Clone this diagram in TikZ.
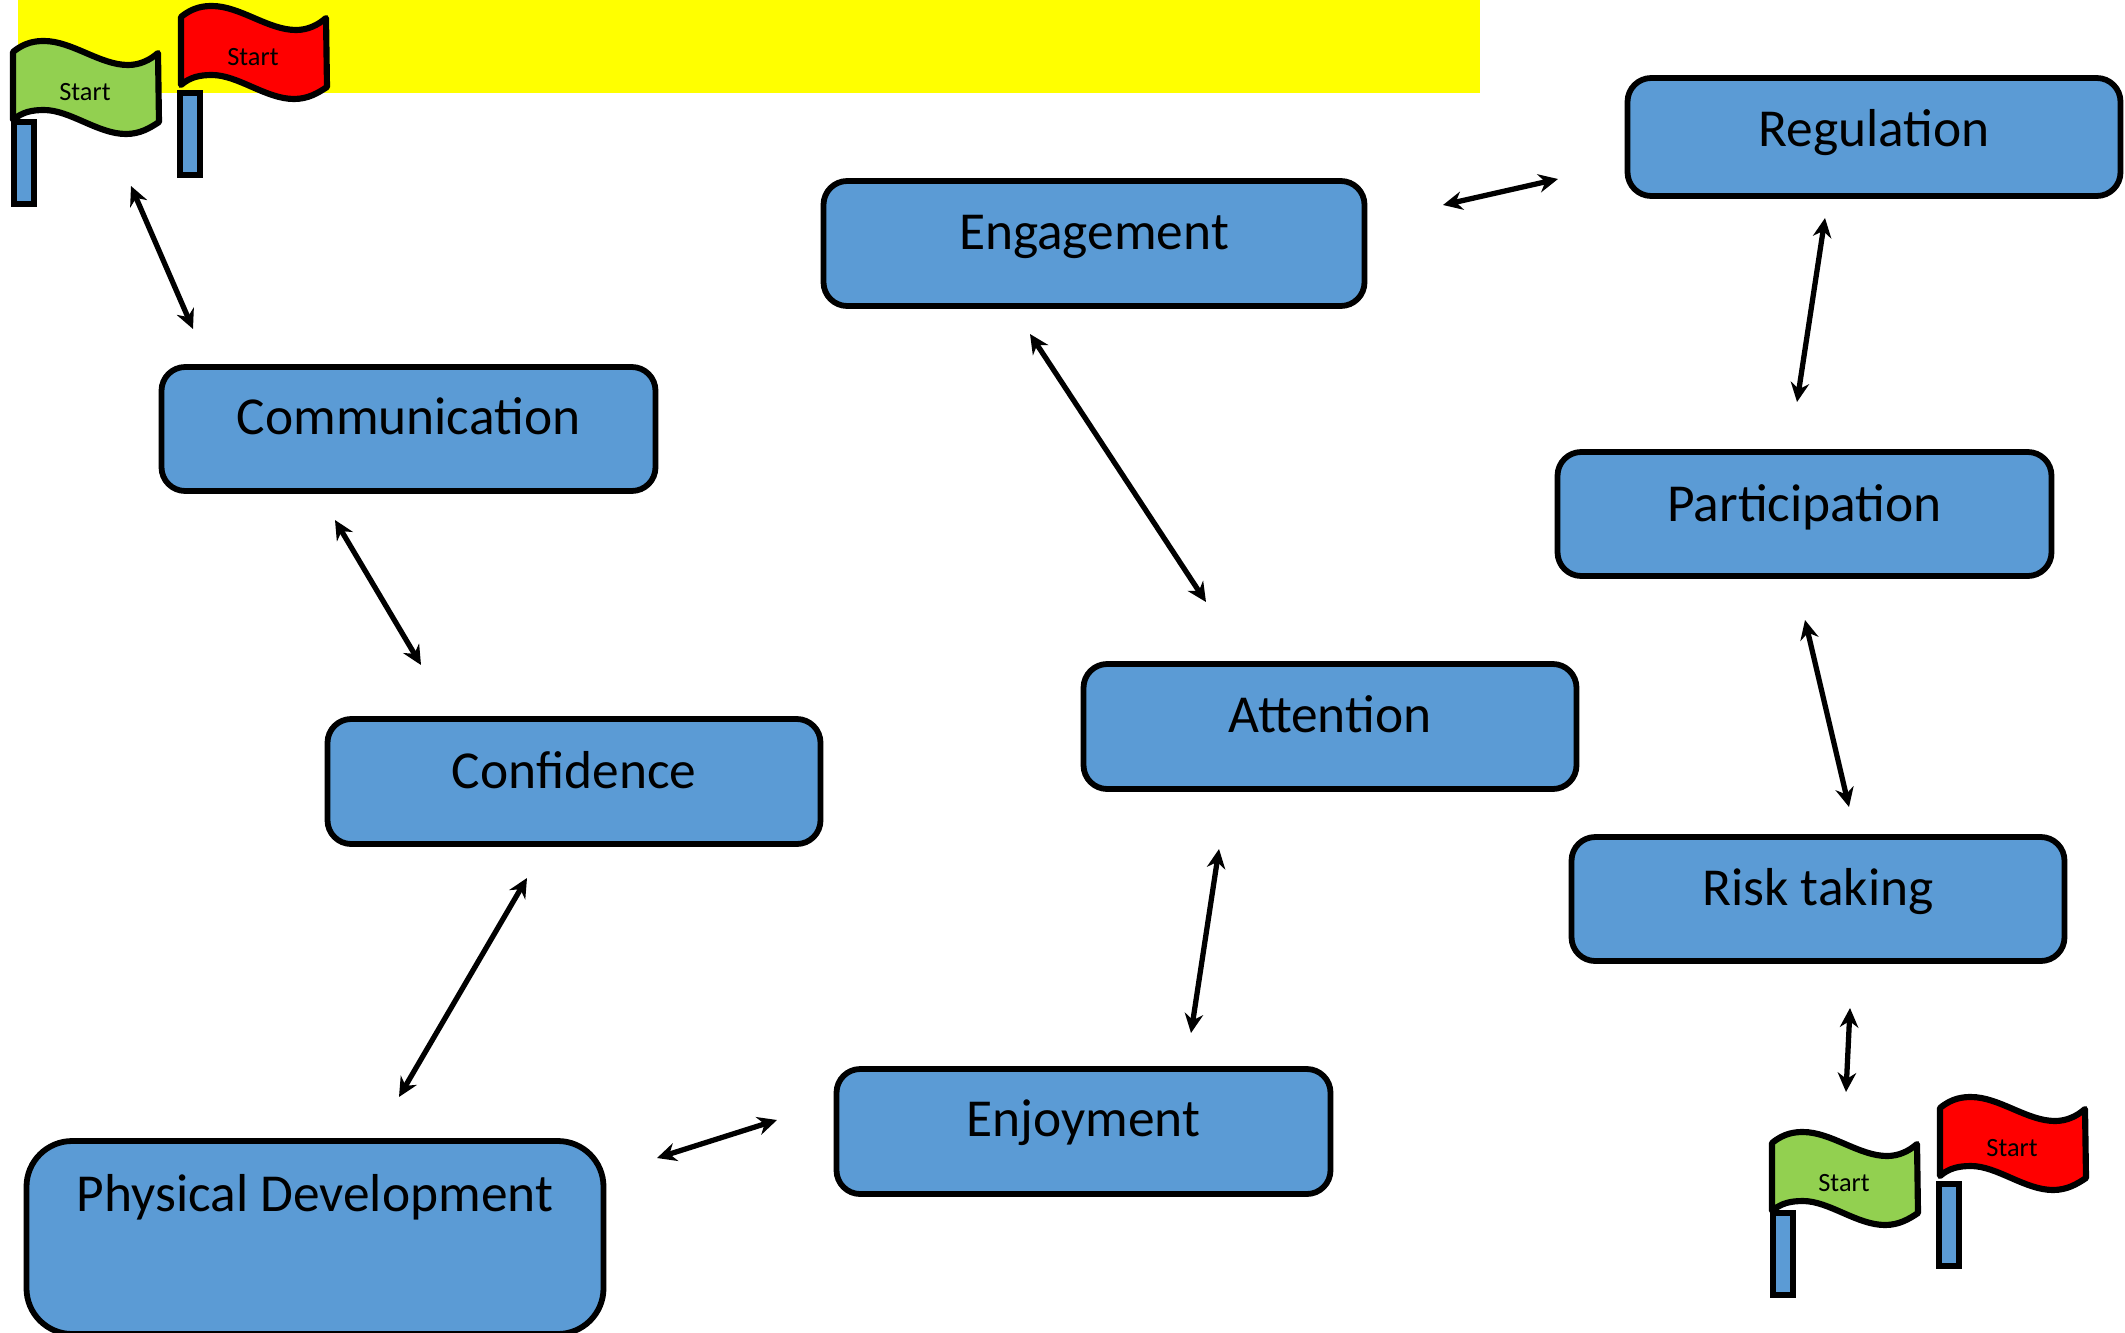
\documentclass[tikz,border=0pt]{standalone}
\usepackage{fontspec}
\setmainfont{Carlito}
\usetikzlibrary{arrows.meta}
\definecolor{boxblue}{HTML}{5B9BD5}
\definecolor{flaggreen}{HTML}{92D050}
\definecolor{flagred}{HTML}{FF0000}
\definecolor{bandyellow}{HTML}{FFFF00}
\tikzset{
  x=0.02cm,y=-0.02cm,
  box/.style n args={3}{draw=black,fill=boxblue,line width=3.3pt,rounded corners=13.5pt,
    inner sep=0pt,outer sep=0pt,minimum width=#1*0.02cm,minimum height=#2*0.02cm,
    text width=#1*0.02cm,align=flush center,text height=#3*0.02cm,text depth=(#2-#3)*0.02cm,
    font=\fontsize{30.4}{33}\selectfont},
  link/.style={draw=black,line width=3pt,{Stealth[length=11pt,width=10.5pt]}-{Stealth[length=11pt,width=10.5pt]}},
  flagcloth/.style={draw=black,line width=3.5pt,line join=round},
  flagpole/.style={draw=black,fill=boxblue,line width=3.6pt},
  flagtext/.style={font=\fontsize{15}{17}\selectfont,inner sep=0pt},
}
% x, y, colour, node name, pole shift x, pole shift y
\newcommand{\startflag}[6]{%
  \begin{scope}[shift={(#1,#2)}]
    \draw[flagpole] (14.3+#5,122+#6) rectangle (33.7+#5,204+#6);
    \draw[flagcloth,fill=#3] (13,52) .. controls (25,42) and (36,41) .. (44,41)
      .. controls (72,41) and (100,65) .. (128,65)
      .. controls (140,65) and (150,60) .. (158,53) -- (159,122)
      .. controls (150,128) and (140,134) .. (126,134)
      .. controls (98,134) and (70,110) .. (44,110)
      .. controls (32,110) and (22,112) .. (13,120) -- cycle;
    \node[flagtext] (#4) at (85,92) {Start};
  \end{scope}}
\begin{document}
\begin{tikzpicture}
\useasboundingbox (0,0) rectangle (2125,1332);
\fill[bandyellow] (18,0) rectangle (1480,93);

\startflag{0}{0}{flaggreen}{flagA}{0}{0}
\startflag{168}{-35}{flagred}{flagB}{-2}{6}
\startflag{1759}{1091}{flaggreen}{flagC}{0}{0}
\startflag{1927}{1056}{flagred}{flagD}{-2}{6}

\node[box={493}{118}{68.5}] (regulation) at (1874,137) {Regulation};
\node[box={541}{125}{68}] (engagement) at (1094,243.5) {Engagement};
\node[box={494}{124}{67}] (communication) at (408.5,429) {Communication};
\node[box={494}{124}{69}] (participation) at (1804.5,514) {Participation};
\node[box={493}{125}{68}] (attention) at (1330,726.5) {Attention};
\node[box={493}{125}{69}] (confidence) at (574,781.5) {Confidence};
\node[box={493}{124}{68}] (risk) at (1818,899) {Risk taking};
\node[box={494}{125}{67}] (enjoyment) at (1083.5,1131.5) {Enjoyment};
\node[box={577}{193}{70},rounded corners=26pt] (physical) at (315,1237.5) {Physical Development};

\coordinate (a1) at (131,186);   \coordinate (a2) at (193,329);
\coordinate (b1) at (335,520);   \coordinate (b2) at (421,665);
\coordinate (c1) at (527,878);   \coordinate (c2) at (399,1097);
\coordinate (d1) at (657,1158);  \coordinate (d2) at (777,1120);
\coordinate (e1) at (1219,849);  \coordinate (e2) at (1191,1033);
\coordinate (f1) at (1206,602);  \coordinate (f2) at (1030,334);
\coordinate (g1) at (1443,205);  \coordinate (g2) at (1558,179);
\coordinate (h1) at (1797,402);  \coordinate (h2) at (1825,218);
\coordinate (i1) at (1849,807);  \coordinate (i2) at (1805,620);
\coordinate (j1) at (1850,1008); \coordinate (j2) at (1846,1092);

\draw[link] (a1) -- (a2);
\draw[link] (b1) -- (b2);
\draw[link] (c1) -- (c2);
\draw[link] (d1) -- (d2);
\draw[link] (e1) -- (e2);
\draw[link] (f1) -- (f2);
\draw[link] (g1) -- (g2);
\draw[link] (h1) -- (h2);
\draw[link] (i1) -- (i2);
\draw[link] (j1) -- (j2);
\end{tikzpicture}
\end{document}
